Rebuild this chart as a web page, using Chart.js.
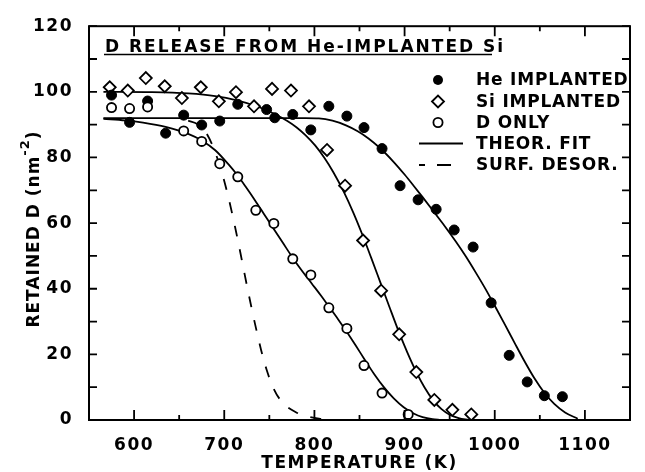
<!DOCTYPE html>
<html><head><meta charset="utf-8">
<script src="https://cdn.jsdelivr.net/npm/chart.js@4.4.0/dist/chart.umd.min.js"></script>
<style>html,body{margin:0;padding:0;background:#fff}</style>
</head><body>
<canvas id="c" width="645" height="472" style="width:645px;height:472px;display:block"></canvas>
<script>
// ---- data ----
const heT = [575,595,615,635,655,675,695,715,747,756,776,796,816,836,855,875,895,915,935,955,976,996,1016,1036,1055,1075];
const heD = [99,90.7,97.2,87.4,92.9,89.9,91.1,96.2,94.6,92.1,93.1,88.4,95.6,92.6,89.1,82.7,71.4,67.1,64.2,57.9,52.7,35.7,19.7,11.6,7.4,7.1];
const siT = [573,593,613,634,653,674,694,713,733,753,774,794,814,834,854,874,894,913,933,953,974];
const siD = [101.4,100.4,104.2,101.7,98.1,101.4,97.1,99.9,95.6,100.9,100.4,95.6,82.3,71.4,54.7,39.4,26.1,14.6,6.1,3.1,1.7];
const dT = [575,595,615,655,675,695,715,735,755,776,796,816,836,855,875,904];
const dD = [95.2,94.9,95.4,88.1,84.9,78.1,74.1,63.9,59.9,49.1,44.2,34.2,27.9,16.6,8.2,1.7];

const fitHeT = [566,600,650,700,750,790,805,820,835,848,860,873,888,900,910,920,932,945,957,968,979,990,1000,1011,1022,1033,1044,1055,1066,1078,1092];
const fitHeD = [92,92,92,92,92,92,91.9,91.2,89.8,88,85.8,82.8,78.6,74.8,71.4,67.9,63.6,58.9,54.3,49.8,44.9,39.8,34.8,29.2,23.5,17.9,12.7,8.3,4.9,2.3,0.4];
const fitSiT = [566,620,660,690,714,736,757,770,780,790,801,811,821,833,843,853,863,873,883,893,903,913,922,932,941,950,960,971];
const fitSiD = [100,99.9,99.5,98.7,97.4,95.6,93.1,91.1,89.2,86.8,83.6,79.9,75.5,69.3,63.3,56.6,49.4,42,34.6,27.3,20.6,14.6,10,5.9,3.3,1.6,0.6,0];
const fitDT = [566,590,610,635,660,675,690,705,714,724,734,744,754,765,776,787,797,807,816,826,836,846,856,866,877,888,899,910,920,931,940];
const fitDD = [91.8,91.3,90.6,89.3,87.2,85.2,82.2,77.8,74.8,71,67,62.8,58.6,54,49.4,45.2,41.6,38,34.6,30.8,26.8,22.6,18.3,14.1,10,6.6,3.9,2,0.9,0.25,0];
const surfT = [660,670,678,688,698,705,712,718,724,730,736,741,747,755,765,780,792,805,825];
const surfD = [91.2,90.2,88.3,83,74.8,67.4,58.8,50.8,42.5,34.5,27,21.2,15.3,9.4,5.2,2.3,1.1,0.4,0];

const xTicks = [600,700,800,900,1000,1100];
const yTicks = [0,20,40,60,80,100,120];
const titleText = 'D RELEASE FROM He-IMPLANTED Si';
const xTitle = 'TEMPERATURE (K)';
const yTitleMain = 'RETAINED D (nm';
const yTitleSup = '-2';
const legendLabels = ['He IMPLANTED','Si IMPLANTED','D ONLY','THEOR. FIT','SURF. DESOR.'];

const pts = (xs, ys) => xs.map((x, i) => ({x, y: ys[i]}));
const FONT = '"DejaVu Sans", sans-serif';

const lineDs = (label, xs, ys, dash) => ({
  label, data: pts(xs, ys), showLine: true, pointRadius: 0, borderColor: '#000',
  borderWidth: 1.8, borderDash: dash || [], cubicInterpolationMode: 'monotone', order: 5, fill: false
});

const datasets = [
  {label: legendLabels[2], data: pts(dT, dD), pointStyle: 'circle', pointRadius: 4.6,
   backgroundColor: '#fff', borderColor: '#000', pointBorderWidth: 1.8, showLine: false, order: 0},
  {label: legendLabels[0], data: pts(heT, heD), pointStyle: 'circle', pointRadius: 5,
   backgroundColor: '#000', borderColor: '#000', pointBorderWidth: 1, showLine: false, order: 1},
  {label: legendLabels[1], data: pts(siT, siD), pointStyle: 'rectRot', pointRadius: 6,
   backgroundColor: '#fff', borderColor: '#000', pointBorderWidth: 1.8, showLine: false, order: 2},
  lineDs(legendLabels[3], fitHeT, fitHeD),
  lineDs(legendLabels[3], fitSiT, fitSiD),
  lineDs(legendLabels[3], fitDT, fitDD),
  lineDs(legendLabels[4], surfT, surfD, [11, 13])
];

const deco = {
  id: 'deco',
  beforeDraw(chart) {
    try { chart.ctx.letterSpacing = '1.5px'; } catch (e) {}
  },
  afterDraw(chart) {
    const ctx = chart.ctx, a = chart.chartArea;
    const xs = chart.scales.x, ys = chart.scales.y;
    ctx.save();
    ctx.strokeStyle = '#000'; ctx.fillStyle = '#000';
    ctx.lineWidth = 2;
    ctx.strokeRect(a.left, a.top, a.right - a.left, a.bottom - a.top);
    ctx.lineWidth = 1.8;
    ctx.beginPath();
    xs.ticks.forEach(t => {
      const p = xs.getPixelForValue(t.value);
      const len = t.value % 100 === 0 ? 10 : 5;
      ctx.moveTo(p, a.bottom); ctx.lineTo(p, a.bottom - len);
      ctx.moveTo(p, a.top); ctx.lineTo(p, a.top + len);
    });
    ys.ticks.forEach(t => {
      const p = ys.getPixelForValue(t.value);
      ctx.moveTo(a.left, p); ctx.lineTo(a.left + 8, p);
      ctx.moveTo(a.right, p); ctx.lineTo(a.right - 8, p);
    });
    ctx.stroke();

    // title inside plot
    ctx.font = 'bold 17px ' + FONT;
    try { ctx.letterSpacing = '2px'; } catch (e) {}
    ctx.textAlign = 'left'; ctx.textBaseline = 'alphabetic';
    ctx.fillText(titleText, 105, 52);
    ctx.lineWidth = 1.6;
    ctx.beginPath(); ctx.moveTo(104, 54.5); ctx.lineTo(492, 54.5); ctx.stroke();

    // legend
    try { ctx.letterSpacing = '0.8px'; } catch (e) {}
    const rows = [80, 101.5, 122.5, 143.5, 165];
    const mx = 438, tx = 476;
    ctx.textBaseline = 'middle';
    legendLabels.forEach((lab, i) => ctx.fillText(lab, tx, rows[i] + 1));
    ctx.beginPath(); ctx.arc(mx, rows[0], 5, 0, Math.PI * 2); ctx.fill();
    ctx.lineWidth = 1.8;
    ctx.beginPath();
    ctx.moveTo(mx - 6, rows[1]); ctx.lineTo(mx, rows[1] - 6); ctx.lineTo(mx + 6, rows[1]); ctx.lineTo(mx, rows[1] + 6); ctx.closePath();
    ctx.stroke();
    ctx.beginPath(); ctx.arc(mx, rows[2], 4.6, 0, Math.PI * 2); ctx.stroke();
    ctx.beginPath(); ctx.moveTo(419, rows[3]); ctx.lineTo(463, rows[3]); ctx.stroke();
    ctx.beginPath(); ctx.moveTo(419, rows[4]); ctx.lineTo(425, rows[4]);
    ctx.moveTo(437, rows[4]); ctx.lineTo(451, rows[4]); ctx.stroke();

    // y title with superscript
    try { ctx.letterSpacing = '1px'; } catch (e) {}
    const mainFont = 'bold 17px ' + FONT, supFont = 'bold 13px ' + FONT;
    ctx.font = mainFont;
    const w1 = ctx.measureText(yTitleMain).width;
    const w3 = ctx.measureText(')').width;
    ctx.font = supFont;
    const w2 = ctx.measureText(yTitleSup).width;
    const total = w1 + w2 + w3;
    ctx.translate(39, 229);
    ctx.rotate(-Math.PI / 2);
    ctx.textAlign = 'left'; ctx.textBaseline = 'alphabetic';
    const x0 = -total / 2;
    ctx.font = mainFont;
    ctx.fillText(yTitleMain, x0, 0);
    ctx.font = supFont;
    ctx.fillText(yTitleSup, x0 + w1, -10);
    ctx.font = mainFont;
    ctx.fillText(')', x0 + w1 + w2, 0);
    ctx.restore();
  }
};

new Chart(document.getElementById('c'), {
  type: 'scatter',
  data: {datasets},
  options: {
    responsive: false, animation: false, devicePixelRatio: 1,
    layout: {padding: {top: 20, right: 4, left: 0, bottom: 0}},
    plugins: {legend: {display: false}, tooltip: {enabled: false}},
    scales: {
      x: {
        type: 'linear', min: 550, max: 1150,
        grid: {display: false, drawTicks: false}, border: {display: false},
        ticks: {stepSize: 50, autoSkip: false, maxRotation: 0, padding: 15, color: '#000',
          font: {family: FONT, size: 17, weight: 'bold'},
          callback: v => xTicks.includes(v) ? String(v) : ''},
        title: {display: true, text: xTitle, color: '#000', padding: {top: 0, bottom: 0},
          font: {family: FONT, size: 17, weight: 'bold', lineHeight: 1.0}},
        afterFit: s => { s.height = 52; }
      },
      y: {
        min: 0, max: 120,
        grid: {display: false, drawTicks: false}, border: {display: false},
        ticks: {stepSize: 10, autoSkip: false, padding: 16, color: '#000',
          font: {family: FONT, size: 17, weight: 'bold'},
          callback: v => yTicks.includes(v) ? String(v) : ''},
        afterFit: s => { s.width = 89; }
      }
    }
  },
  plugins: [deco]
});
</script>
</body></html>
